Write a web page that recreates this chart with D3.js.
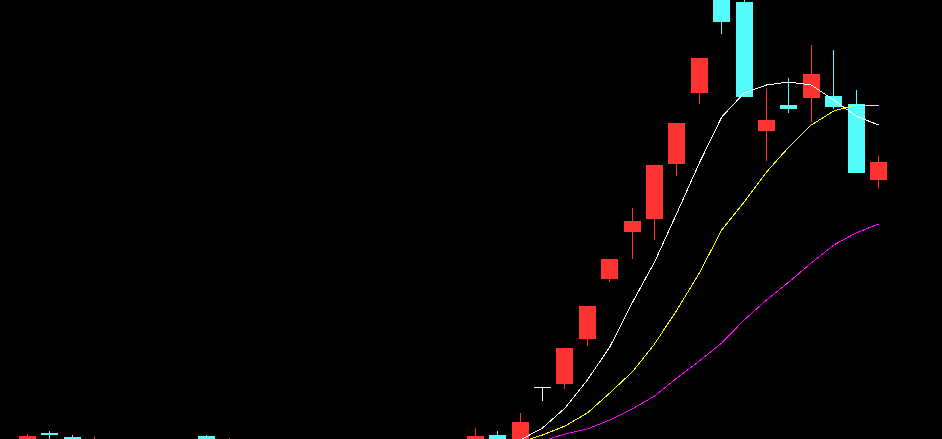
<!DOCTYPE html>
<html>
<head>
<meta charset="utf-8">
<script src="https://cdn.jsdelivr.net/npm/d3@7"></script>
<style>
  html, body { margin: 0; padding: 0; background: #000; overflow: hidden; }
  svg { display: block; }
</style>
</head>
<body>
<svg id="chart" width="942" height="439"></svg>
<script>
// ---- data ----
const dates = d3.range(39).map(i => "D" + (i + 1));
const opens  = [7.94, 8.12, 8.04, 7.88, 7.85, 7.76, 7.80, 7.86, 8.06, 7.88,
                7.80, 7.74, 7.70, 7.66, 7.72, 7.68, 7.64, 7.70, 7.74, 7.78,
                7.90, 8.08, 7.98, 9.04, 9.10, 10.00, 11.20, 12.14, 12.40, 13.50,
                14.92, 16.88, 16.74, 14.16, 14.68, 14.82, 14.86, 14.70, 13.18];
const highs  = [8.10, 8.16, 8.08, 8.04, 7.96, 7.84, 7.92, 7.94, 8.08, 8.02,
                7.86, 7.80, 7.76, 7.74, 7.78, 7.74, 7.72, 7.78, 7.82, 7.90,
                8.22, 8.16, 8.52, 9.04, 9.82, 10.66, 11.60, 12.62, 13.48, 14.32,
                15.62, 17.00, 16.86, 15.00, 15.22, 15.88, 15.78, 14.98, 13.66];
const lows   = [7.86, 7.86, 7.82, 7.80, 7.70, 7.66, 7.74, 7.78, 7.86, 7.82,
                7.70, 7.64, 7.60, 7.58, 7.62, 7.58, 7.56, 7.62, 7.66, 7.70,
                7.84, 7.90, 7.94, 8.76, 9.00, 9.86, 11.14, 11.60, 11.98, 13.26,
                14.70, 16.10, 14.84, 13.56, 14.52, 14.34, 14.60, 13.32, 13.02];
const closes = [8.06, 8.08, 7.92, 7.96, 7.78, 7.80, 7.88, 7.82, 7.92, 7.94,
                7.74, 7.70, 7.66, 7.72, 7.68, 7.64, 7.70, 7.74, 7.78, 7.86,
                8.06, 7.96, 8.34, 9.04, 9.82, 10.66, 11.60, 12.36, 13.48, 14.32,
                15.62, 16.34, 14.84, 14.38, 14.60, 15.30, 14.64, 13.32, 13.54];
const ma5  = [null, null, null, null, null, null, null, null, null, null,
              null, null, null, null, null, null, null, null, null, null,
              null, 7.90, 7.98, 8.22, 8.62, 9.18, 9.84, 10.72, 11.54, 12.52,
              13.52, 14.44, 14.92, 15.08, 15.14, 15.08, 14.78, 14.46, 14.28];
const ma10 = [null, null, null, null, null, null, null, null, null, null,
              null, null, null, null, null, null, null, null, null, null,
              null, 7.86, 7.94, 8.08, 8.26, 8.52, 8.92, 9.34, 9.90, 10.58,
              11.32, 12.18, 12.74, 13.34, 13.84, 14.28, 14.56, 14.68, 14.68];
const ma20 = [null, null, null, null, null, null, null, null, null, null,
              null, null, null, null, null, null, null, null, null, null,
              null, null, 7.84, 7.96, 8.10, 8.20, 8.38, 8.60, 8.86, 9.22,
              9.56, 9.92, 10.38, 10.78, 11.14, 11.52, 11.88, 12.12, 12.30];

const priceDomain = [8.00, 16.78];

// ---- colours ----
const UP = "#ff3232", DOWN = "#54fcfc", FLAT = "#ffffff";
const lineColors = ["#ffffff", "#ffff00", "#ff00ff"];

const W = 942, H = 439;
const svg = d3.select("#chart");
svg.append("rect").attr("width", W).attr("height", H).attr("fill", "#000");

const defs = svg.append("defs");
defs.append("clipPath").attr("id", "clip")
  .append("rect").attr("x", 0).attr("y", 0).attr("width", W).attr("height", H);

const step = 851 / 38;
const x = d3.scaleBand()
  .domain(dates)
  .range([27.5 - step / 2, 27.5 - step / 2 + step * dates.length])
  .paddingInner(1 - 17 / step)
  .paddingOuter((1 - 17 / step) / 2);
const cx = d => x(d) + x.bandwidth() / 2;

const y = d3.scaleLinear().domain(priceDomain).range([H, 0]);

const g = svg.append("g").attr("clip-path", "url(#clip)");

const data = dates.map((d, i) => ({
  d, o: opens[i], h: highs[i], l: lows[i], c: closes[i]
}));
const colorOf = k => k.c > k.o ? UP : (k.c < k.o ? DOWN : FLAT);

// wicks
g.selectAll("line.wick").data(data).join("line")
  .attr("class", "wick")
  .attr("x1", k => Math.floor(cx(k.d)) + 0.5)
  .attr("x2", k => Math.floor(cx(k.d)) + 0.5)
  .attr("y1", k => y(k.h))
  .attr("y2", k => y(k.l))
  .attr("stroke", colorOf)
  .attr("stroke-width", 1)
  .attr("shape-rendering", "crispEdges");

// bodies
g.selectAll("rect.body").data(data.filter(k => k.o !== k.c)).join("rect")
  .attr("class", "body")
  .attr("x", k => Math.round(x(k.d)))
  .attr("width", Math.round(x.bandwidth()))
  .attr("y", k => y(Math.max(k.o, k.c)))
  .attr("height", k => Math.max(1, Math.abs(y(k.o) - y(k.c))))
  .attr("fill", colorOf)
  .attr("shape-rendering", "crispEdges");

// doji bars
g.selectAll("line.doji").data(data.filter(k => k.o === k.c)).join("line")
  .attr("class", "doji")
  .attr("x1", k => Math.round(x(k.d)))
  .attr("x2", k => Math.round(x(k.d)) + Math.round(x.bandwidth()))
  .attr("y1", k => Math.floor(y(k.c)) + 0.5)
  .attr("y2", k => Math.floor(y(k.c)) + 0.5)
  .attr("stroke", FLAT)
  .attr("stroke-width", 1)
  .attr("shape-rendering", "crispEdges");

// moving average lines
[ma5, ma10, ma20].forEach((arr, j) => {
  const pts = dates.map((d, i) => ({ d, v: arr[i] }));
  const line = d3.line()
    .defined(p => p.v !== null)
    .x(p => cx(p.d))
    .y(p => y(p.v));
  g.append("path")
    .datum(pts)
    .attr("d", line)
    .attr("fill", "none")
    .attr("stroke", lineColors[j])
    .attr("stroke-width", 1)
    .attr("shape-rendering", "crispEdges");
});
</script>
</body>
</html>
